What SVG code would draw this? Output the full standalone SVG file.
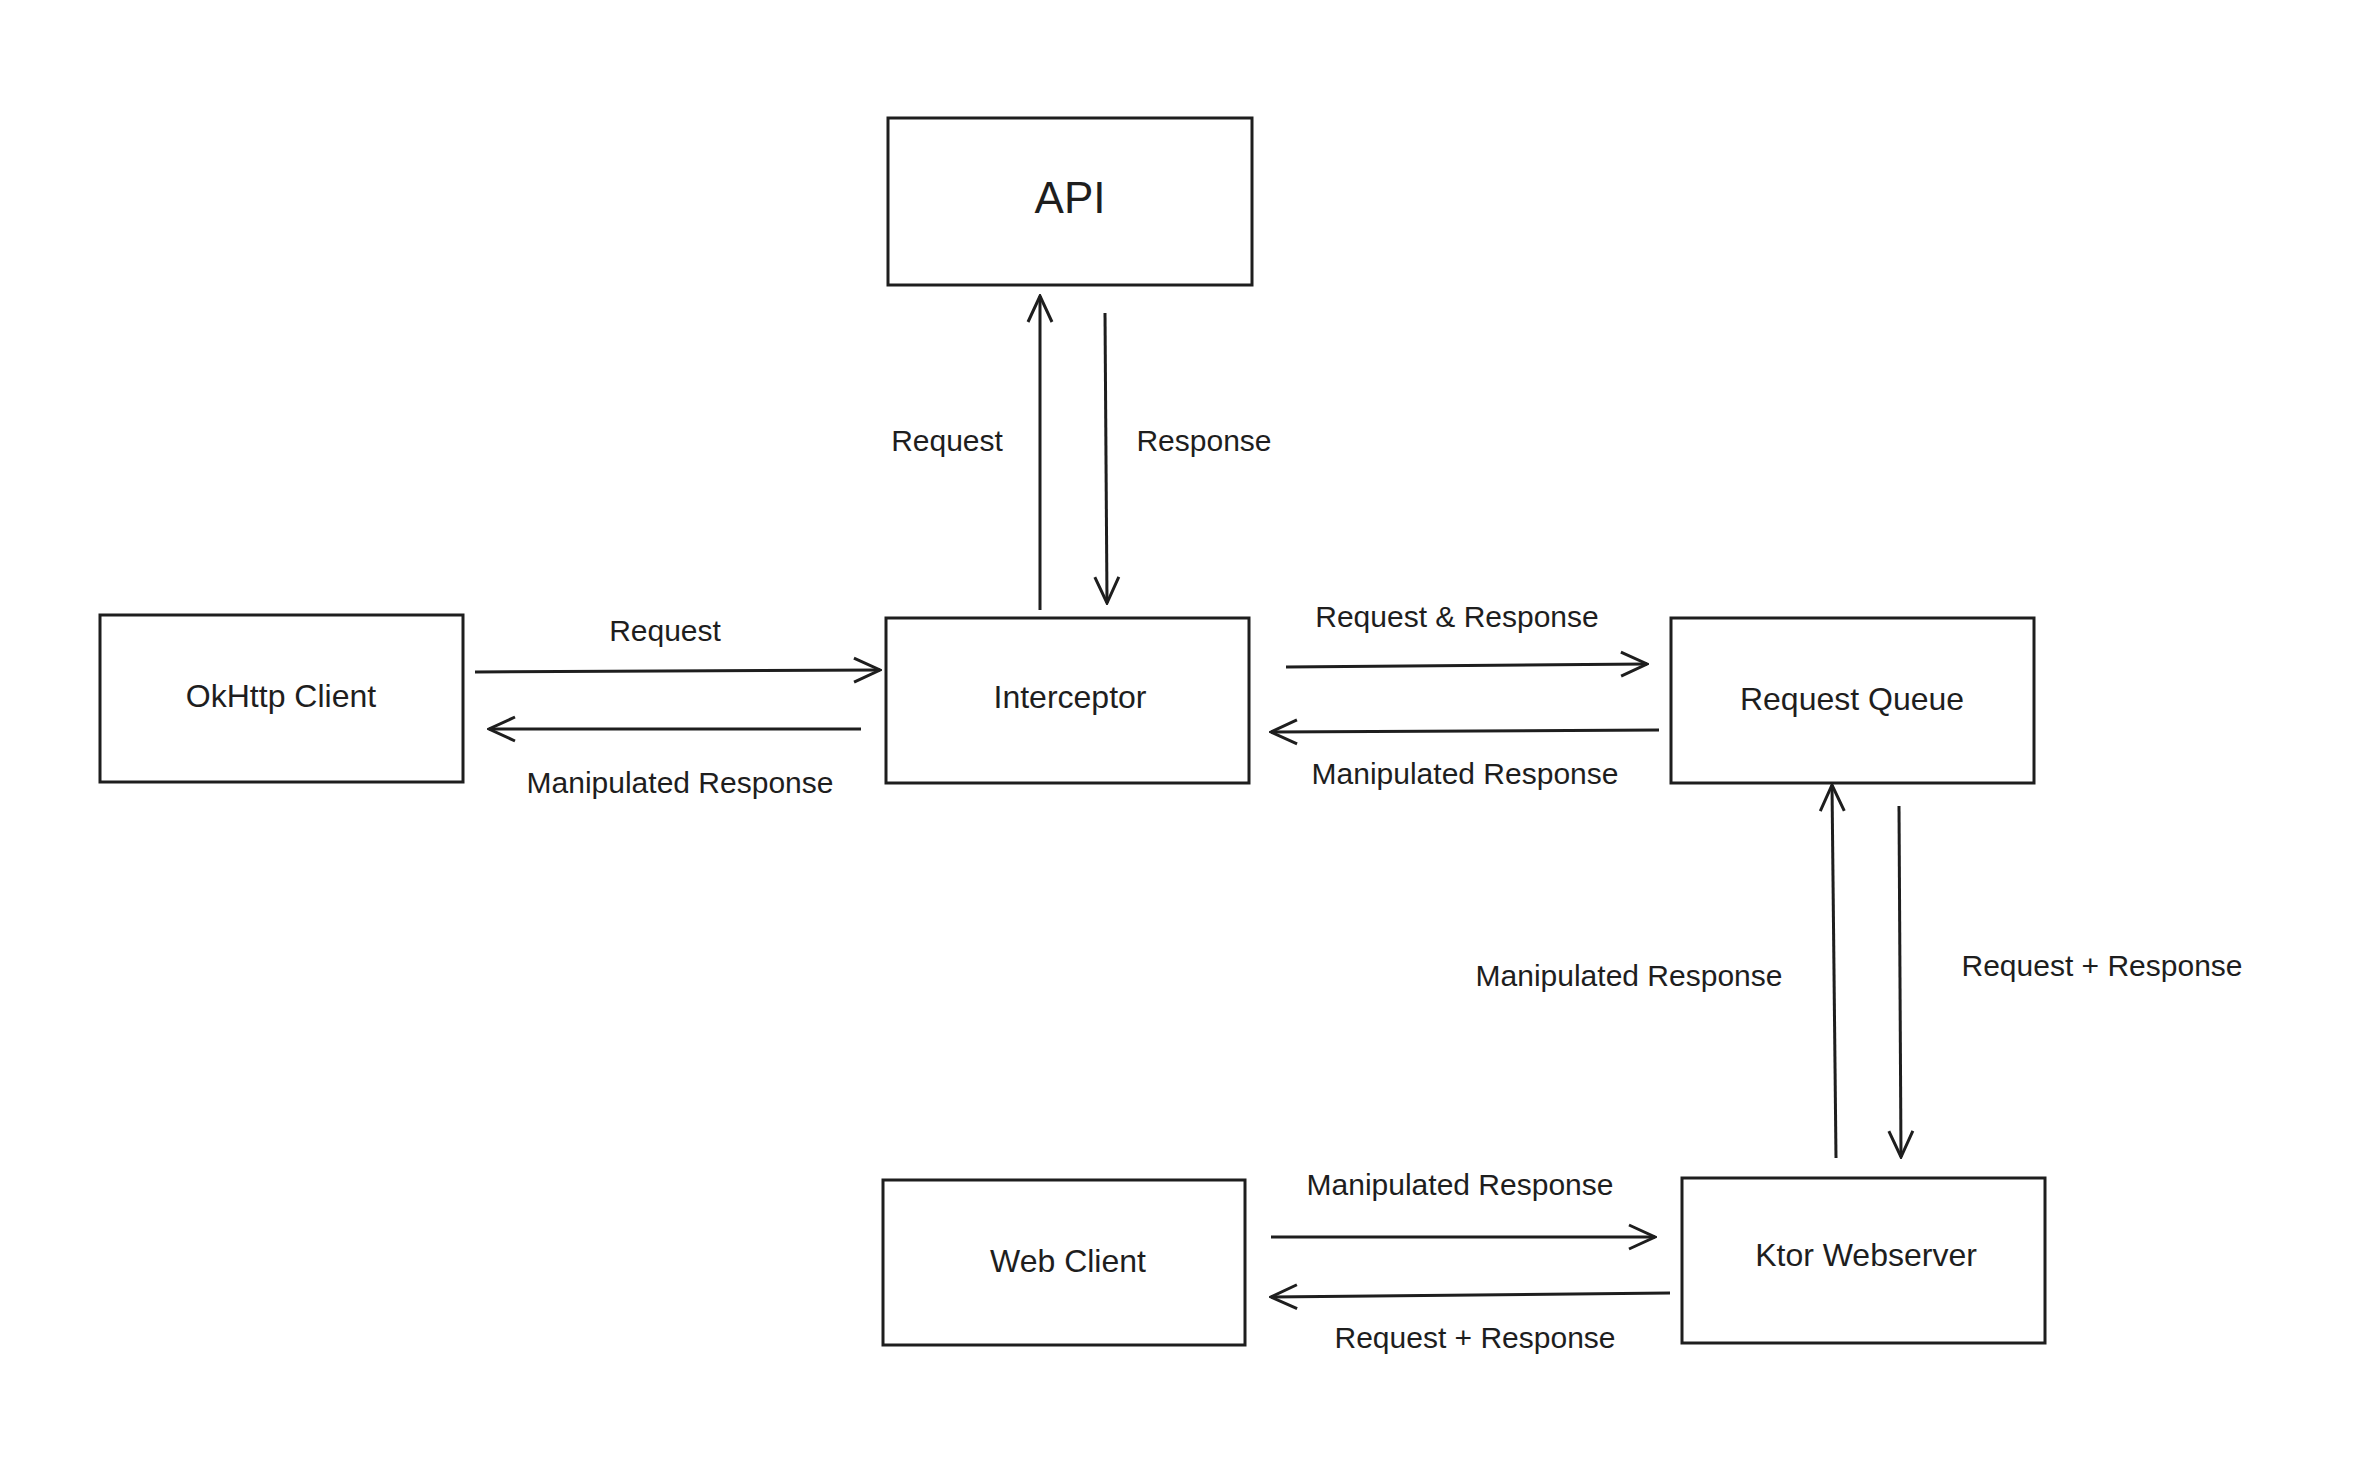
<svg xmlns="http://www.w3.org/2000/svg" width="2368" height="1460" viewBox="0 0 2368 1460">
<style>
.box{fill:none;stroke:#1e1e1e;stroke-width:3}
.lbl{font-family:"Liberation Sans",sans-serif;font-size:32px;fill:#1e1e1e;text-anchor:middle;dominant-baseline:middle}
.al{font-family:"Liberation Sans",sans-serif;font-size:30px;fill:#1e1e1e;text-anchor:middle;dominant-baseline:middle}
.c{stroke:#1e1e1e;stroke-width:3;fill:none}
</style>
<defs>
<marker id="ah" viewBox="0 0 30 30" refX="28" refY="15" markerWidth="30" markerHeight="30" markerUnits="userSpaceOnUse" orient="auto">
<path d="M2,3 L28,15 L2,27" fill="none" stroke="#1e1e1e" stroke-width="3"/>
</marker>
</defs>
<rect width="2368" height="1460" fill="#fff"/>
<g id="api"><rect class="box" x="888" y="118" width="364" height="167"/><text class="lbl" x="1070" y="201" style="font-size:44px">API</text></g>
<g id="okhttp"><rect class="box" x="100" y="615" width="363" height="167"/><text class="lbl" x="281" y="699">OkHttp Client</text></g>
<g id="interceptor"><rect class="box" x="886" y="618" width="363" height="165"/><text class="lbl" x="1070" y="700">Interceptor</text></g>
<g id="queue"><rect class="box" x="1671" y="618" width="363" height="165"/><text class="lbl" x="1852" y="702">Request Queue</text></g>
<g id="web"><rect class="box" x="883" y="1180" width="362" height="165"/><text class="lbl" x="1068" y="1264">Web Client</text></g>
<g id="ktor"><rect class="box" x="1682" y="1178" width="363" height="165"/><text class="lbl" x="1866" y="1258">Ktor Webserver</text></g>
<g id="connectors">
<line class="c" x1="1040" y1="610" x2="1040" y2="296" marker-end="url(#ah)"/>
<line class="c" x1="1105" y1="313" x2="1107" y2="603" marker-end="url(#ah)"/>
<line class="c" x1="475" y1="672" x2="880" y2="670" marker-end="url(#ah)"/>
<line class="c" x1="861" y1="729" x2="489" y2="729" marker-end="url(#ah)"/>
<line class="c" x1="1286" y1="667" x2="1647" y2="664" marker-end="url(#ah)"/>
<line class="c" x1="1659" y1="730" x2="1271" y2="732" marker-end="url(#ah)"/>
<line class="c" x1="1836" y1="1158" x2="1832" y2="785" marker-end="url(#ah)"/>
<line class="c" x1="1899" y1="806" x2="1901" y2="1157" marker-end="url(#ah)"/>
<line class="c" x1="1271" y1="1237" x2="1655" y2="1237" marker-end="url(#ah)"/>
<line class="c" x1="1670" y1="1293" x2="1271" y2="1297" marker-end="url(#ah)"/>
<text class="al" x="947" y="443">Request</text>
<text class="al" x="1204" y="443">Response</text>
<text class="al" x="665" y="633">Request</text>
<text class="al" x="680" y="785">Manipulated Response</text>
<text class="al" x="1457" y="619">Request &amp; Response</text>
<text class="al" x="1465" y="776">Manipulated Response</text>
<text class="al" x="1629" y="978">Manipulated Response</text>
<text class="al" x="2102" y="968">Request + Response</text>
<text class="al" x="1460" y="1187">Manipulated Response</text>
<text class="al" x="1475" y="1340">Request + Response</text>
</g>
</svg>
